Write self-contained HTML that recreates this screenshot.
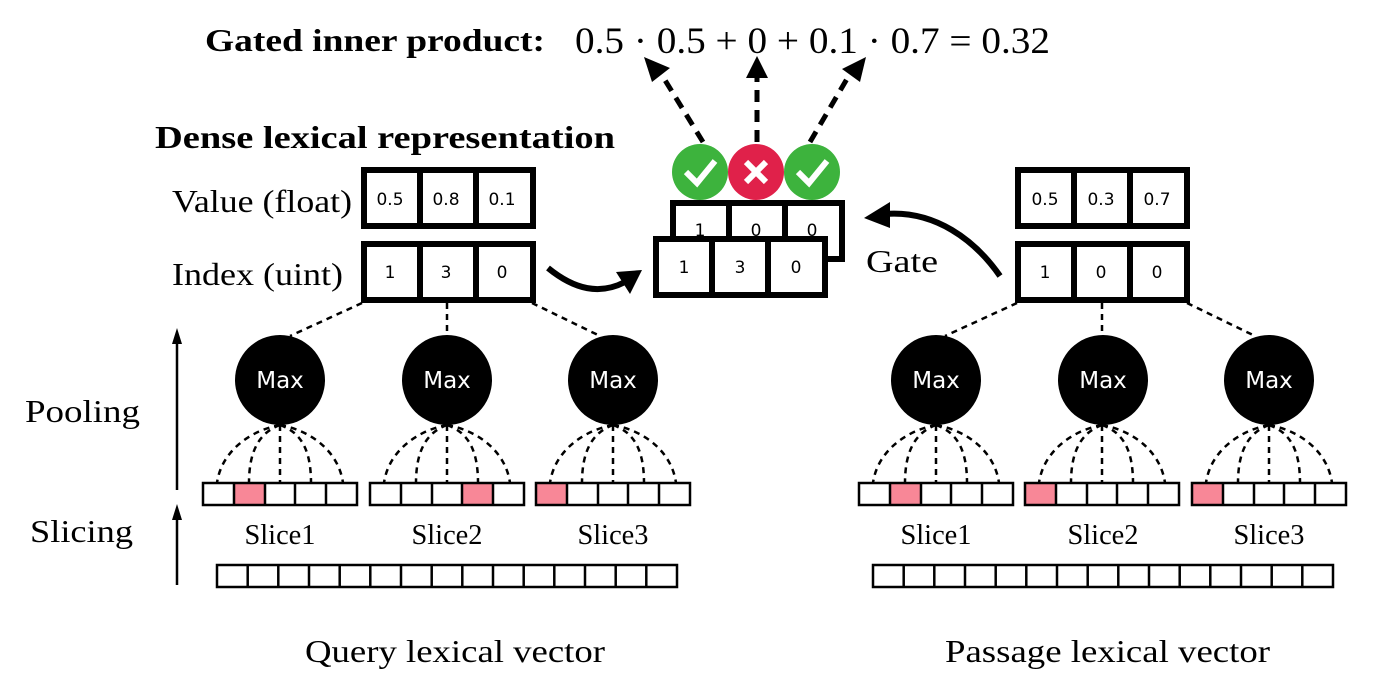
<!DOCTYPE html>
<html><head><meta charset="utf-8"><style>
html,body{margin:0;padding:0;background:#fff;}
svg{display:block;}
.s{font-family:"Liberation Serif",serif;}
.n{font-family:"DejaVu Sans","Liberation Sans",sans-serif;}
</style></head><body>
<svg width="1375" height="689" viewBox="0 0 1375 689" xmlns="http://www.w3.org/2000/svg">
<defs>
<g id="sl">
 <g fill="none" stroke="#000" stroke-width="2.5" stroke-dasharray="6,5">
  <path d="M77,-58 C45,-52 18,-30 14,0"/>
  <path d="M77,-58 C55,-50 46,-30 46,0"/>
  <path d="M77,-58 L77,0"/>
  <path d="M77,-58 C100,-50 108,-30 108,0"/>
  <path d="M77,-58 C110,-52 136,-30 140,0"/>
 </g>
 <rect x="0" y="0" width="154" height="22" fill="none" stroke="#000" stroke-width="2.5"/>
 <path d="M31,0V22M62,0V22M92,0V22M123,0V22" stroke="#000" stroke-width="2.5"/>
</g>
<g id="lv">
 <rect x="0" y="0" width="460" height="22" fill="none" stroke="#000" stroke-width="2.5"/>
 <path d="M30.7,0V22M61.3,0V22M92,0V22M122.7,0V22M153.3,0V22M184,0V22M214.7,0V22M245.3,0V22M276,0V22M306.7,0V22M337.3,0V22M368,0V22M398.7,0V22M429.3,0V22" stroke="#000" stroke-width="2.5"/>
</g>
<g id="box3">
 <rect x="3" y="3" width="169" height="56" fill="#fff" stroke="#000" stroke-width="6"/>
 <path d="M59,3V59M115,3V59" stroke="#000" stroke-width="6"/>
</g>
</defs>

<text x="205" y="51" class="s" font-size="32" font-weight="bold" textLength="340" lengthAdjust="spacingAndGlyphs">Gated inner product:</text>
<text x="575" y="53" class="s" font-size="37" textLength="475" lengthAdjust="spacingAndGlyphs">0.5 · 0.5 + 0 + 0.1 · 0.7 = 0.32</text>

<text x="155" y="148" class="s" font-size="32" font-weight="bold" textLength="460" lengthAdjust="spacingAndGlyphs">Dense lexical representation</text>

<use href="#box3" x="361" y="167"/>
<use href="#box3" x="361" y="241"/>
<g class="n" font-size="17" text-anchor="middle">
<text x="390" y="205">0.5</text><text x="446" y="205">0.8</text><text x="502" y="205">0.1</text>
<text x="390" y="278">1</text><text x="446" y="278">3</text><text x="502" y="278">0</text>
</g>
<text x="172" y="212" class="s" font-size="32" textLength="180" lengthAdjust="spacingAndGlyphs">Value (float)</text>
<text x="172" y="285" class="s" font-size="32" textLength="171" lengthAdjust="spacingAndGlyphs">Index (uint)</text>

<use href="#box3" x="1015" y="167"/>
<use href="#box3" x="1015" y="241"/>
<g class="n" font-size="17" text-anchor="middle">
<text x="1045" y="205">0.5</text><text x="1101" y="205">0.3</text><text x="1157" y="205">0.7</text>
<text x="1045" y="278">1</text><text x="1101" y="278">0</text><text x="1157" y="278">0</text>
</g>

<use href="#box3" x="670" y="200"/>
<g class="n" font-size="17" text-anchor="middle">
<text x="700" y="236">1</text><text x="756" y="236">0</text><text x="812" y="236">0</text>
</g>
<use href="#box3" x="653" y="236"/>
<g class="n" font-size="17" text-anchor="middle">
<text x="684" y="273">1</text><text x="740" y="273">3</text><text x="796" y="273">0</text>
</g>

<circle cx="700" cy="172" r="28" fill="#3db33d"/>
<circle cx="756" cy="172" r="28" fill="#e0214a"/>
<circle cx="812" cy="172" r="28" fill="#3db33d"/>
<path d="M686,172 L697,183 L715,161" fill="none" stroke="#fff" stroke-width="6"/>
<path d="M798,172 L809,183 L827,161" fill="none" stroke="#fff" stroke-width="6"/>
<path d="M746,162 L766,182 M766,162 L746,182" stroke="#fff" stroke-width="6"/>

<g stroke="#000" stroke-width="5" stroke-dasharray="12,8" fill="none">
<path d="M703,142 L660,72"/>
<path d="M757,142 L757,76"/>
<path d="M810,142 L851,72"/>
</g>
<path d="M644,57 L670,68 L652,82 z" fill="#000"/>
<path d="M757,56 L768,78 L746,78 z" fill="#000"/>
<path d="M866,57 L860,82 L842,69 z" fill="#000"/>

<path d="M548,268 C575,290 600,295 625,282" fill="none" stroke="#000" stroke-width="6"/>
<path d="M642,270 L616,272 L630,294 z" fill="#000"/>
<path d="M1000,276 C975,240 935,210 885,214" fill="none" stroke="#000" stroke-width="6"/>
<path d="M864,218 L890,202 L890,228 z" fill="#000"/>
<text x="866" y="272" class="s" font-size="32" textLength="72" lengthAdjust="spacingAndGlyphs">Gate</text>

<g stroke="#000" stroke-width="2.5" stroke-dasharray="6,5" fill="none">
<path d="M362,303 L290,336"/><path d="M447,303 L447,335"/><path d="M532,303 L600,336"/>
<path d="M1017,303 L945,336"/><path d="M1102,303 L1102,335"/><path d="M1187,303 L1255,336"/>
</g>

<g fill="#000">
<circle cx="280" cy="380" r="45"/><circle cx="447" cy="380" r="45"/><circle cx="613" cy="380" r="45"/>
<circle cx="936" cy="380" r="45"/><circle cx="1103" cy="380" r="45"/><circle cx="1269" cy="380" r="45"/>
</g>
<g class="n" font-size="23" fill="#fff" text-anchor="middle">
<text x="280" y="388">Max</text><text x="447" y="388">Max</text><text x="613" y="388">Max</text>
<text x="936" y="388">Max</text><text x="1103" y="388">Max</text><text x="1269" y="388">Max</text>
</g>

<g fill="#f88797">
<rect x="234" y="483" width="31" height="22"/>
<rect x="462" y="483" width="31" height="22"/>
<rect x="537" y="483" width="31" height="22"/>
<rect x="890" y="483" width="31" height="22"/>
<rect x="1025" y="483" width="31" height="22"/>
<rect x="1192" y="483" width="31" height="22"/>
</g>
<use href="#sl" x="203" y="483"/><use href="#sl" x="370" y="483"/><use href="#sl" x="536" y="483"/>
<use href="#sl" x="859" y="483"/><use href="#sl" x="1025" y="483"/><use href="#sl" x="1192" y="483"/>

<g class="s" font-size="29" text-anchor="middle">
<text x="280" y="544" textLength="71" lengthAdjust="spacingAndGlyphs">Slice1</text><text x="447" y="544" textLength="71" lengthAdjust="spacingAndGlyphs">Slice2</text><text x="613" y="544" textLength="71" lengthAdjust="spacingAndGlyphs">Slice3</text>
<text x="936" y="544" textLength="71" lengthAdjust="spacingAndGlyphs">Slice1</text><text x="1103" y="544" textLength="71" lengthAdjust="spacingAndGlyphs">Slice2</text><text x="1269" y="544" textLength="71" lengthAdjust="spacingAndGlyphs">Slice3</text>
</g>

<use href="#lv" x="217" y="565"/>
<use href="#lv" x="873" y="565"/>

<path d="M177,490 V342" stroke="#000" stroke-width="2.5"/>
<path d="M177,328 L172,344 L182,344 z" fill="#000"/>
<path d="M177,585 V518" stroke="#000" stroke-width="2.5"/>
<path d="M177,504 L172,520 L182,520 z" fill="#000"/>
<text x="25" y="422" class="s" font-size="32" textLength="115" lengthAdjust="spacingAndGlyphs">Pooling</text>
<text x="30" y="542" class="s" font-size="32" textLength="103" lengthAdjust="spacingAndGlyphs">Slicing</text>

<text x="305" y="662" class="s" font-size="32" textLength="300" lengthAdjust="spacingAndGlyphs">Query lexical vector</text>
<text x="945" y="662" class="s" font-size="32" textLength="325" lengthAdjust="spacingAndGlyphs">Passage lexical vector</text>
</svg>
</body></html>
